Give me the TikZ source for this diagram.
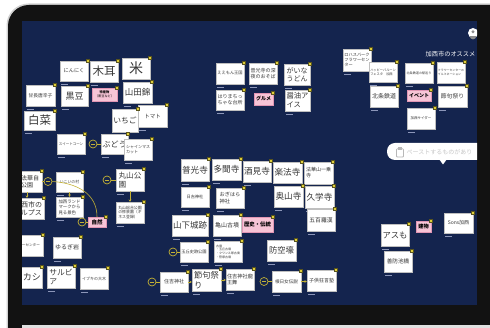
\documentclass[tikz,border=0pt]{standalone}
\usepackage{fontspec}
\newfontfamily\jp{Noto Sans CJK JP}
\usetikzlibrary{arrows.meta}
\definecolor{navy}{RGB}{20,36,78}
\definecolor{linky}{RGB}{196,178,52}
\definecolor{pinyel}{RGB}{222,206,58}
\definecolor{pindark}{RGB}{90,85,30}
\definecolor{pinkfill}{RGB}{247,196,214}
\definecolor{pinkdraw}{RGB}{225,150,180}
\definecolor{captc}{RGB}{140,150,185}
\definecolor{notetext}{RGB}{55,55,55}
\tikzset{
 fs/.style={font={\jp\pgfmathsetmacro\bsk{#1*1.22}\fontsize{#1}{\bsk}\selectfont}},
 note/.style={fill=white, draw=black!25, line width=0.3pt, inner sep=0.6pt, align=left, text=notetext},
 pnote/.style={fill=pinkfill, draw=pinkdraw, line width=0.4pt, inner sep=0.4pt, align=center, text=black},
 pinsq/.style={fill=pinyel, draw=pindark, line width=0.25pt},
 capt/.style={fill=captc},
 link/.style={draw=linky, line width=0.6pt},
 arr/.style={link, -{Stealth[length=2.4pt,width=2.6pt]}},
 coll/.style={circle, draw=linky, line width=0.7pt, minimum size=8pt, inner sep=0pt},
}
\newcommand\sticky[7]{%
 \node[note,fs=#6,minimum width={(#4)-(#2)},minimum height={(#5)-(#3)}] (#1) at ({((#2)+(#4))/2},{((#3)+(#5))/2}) {#7};
 \fill[capt] ({(#2)+1},{(#5)+2.6}) rectangle ({(#2)+8},{(#5)+3.5});
 \draw[pinsq] ({(#4)-1.5},{(#3)-1.5}) rectangle ({(#4)+1.5},{(#3)+1.5});
}
\newcommand\pinky[7]{%
 \node[pnote,fs=#6,minimum width={(#4)-(#2)},minimum height={(#5)-(#3)}] (#1) at ({((#2)+(#4))/2},{((#3)+(#5))/2}) {\bfseries #7};
 \draw[pinsq] ({(#4)-1.5},{(#3)-1.5}) rectangle ({(#4)+1.5},{(#3)+1.5});
}
\newcommand\collbtn[4]{%
 \node[coll] (#1) at (#2,#3) {};
 \draw[link] ([xshift=-2.2pt]#1.center) -- ([xshift=2.2pt]#1.center);
 \draw[link] (#1.east) -- (#1.east -| #4.west);
}
\begin{document}
\begin{tikzpicture}[x=1pt,y=-1pt]
\useasboundingbox (0,0) rectangle (490,328);
\begin{scope}
 \clip (0,0) rectangle (490,328);
 \fill[white] (0,0) rectangle (490,328);
 \fill[black!18, rounded corners=22] (6.5,3.5) rectangle (560,360);
 \fill[black!93, rounded corners=21] (8,5) rectangle (560,360);
 \fill[black!12] (22,325.5) rectangle (490,328);
\end{scope}
\fill[navy] (22,21) rectangle (477,305);
\begin{scope}
\clip (22,21) rectangle (477,305);
% top-right avatar
\fill[white] (473,33) circle (5);
\fill[black!45] (473,31.8) circle (1.6);
\fill[black!45] (469.8,36.2) arc (180:0:3.2) -- cycle;
% title
\node[fs=6.2, text=white, anchor=west, inner sep=0pt] (title) at (425.5,54) {加西市のオススメ};
% paste tooltip
\fill[white, rounded corners=8] (387,143) rectangle (520,160);
\fill[white] (439,159) -- (447,159) -- (443,164.5) -- cycle;
\draw[black!28, line width=0.8pt, rounded corners=0.8] (396.5,148.8) rectangle (403.5,157);
\fill[black!28] (398.4,147.4) rectangle (401.6,149.8);
\node[fs=6, text=black!22, anchor=west, inner sep=0pt] (paste) at (406.5,152) {ペーストするものがあり};

% left area
\sticky{ninniku}{60}{61}{88}{81}{5.2}{にんにく}
\sticky{kikurage}{90}{61}{118}{82}{11.5}{木耳}
\sticky{kome}{122}{58}{150}{79}{14}{米}
\sticky{amanaga}{26}{85}{55}{106}{4.8}{甘長唐辛子}
\sticky{kuromame}{61}{86}{88}{106}{9}{黒豆}
\pinky{tokusan}{92}{88}{117}{101}{3.2}{特産物\\（黒豆など）}
\sticky{yamada}{123}{82}{152}{103}{8.5}{山田錦}
\sticky{hakusai}{24}{111}{55}{130}{11.5}{白菜}
\sticky{tomato}{138}{105}{167}{127}{5.5}{トマト}
\sticky{ichigo}{112}{109}{138}{132}{7.8}{いちご}
\sticky{sweet}{57}{134}{85}{154}{3.5}{スイートコーン}
\sticky{budou}{101}{134}{128}{154}{8}{ぶどう}
\sticky{shine}{124}{139}{152}{160}{4}{シャインマス\\カット}
\sticky{kohokke}{12}{171}{42}{192}{6}{古法華自\\然公園}
\sticky{ikoi}{56}{172}{83}{192}{3.9}{いこいの村}
\sticky{alps}{12}{198}{44}{219}{7}{加西市の\\アルプス}
\sticky{kasailand}{56}{197}{83}{217}{4.4}{加西ランド\\マークから\\見る景色}
\sticky{maruyama}{116}{169}{144}{191}{7.6}{丸山公\\園}
\sticky{maruyama2}{116}{202}{144}{223}{3.9}{丸山総合公園\\の修景園（ギ\\ネス登録）}
\pinky{shizen}{88}{217}{106}{227}{5.5}{自然}
\sticky{flower}{8}{235}{43}{256}{3.6}{フラワーセンター}
\sticky{yurugi}{53}{237}{81}{258}{6}{ゆるぎ岩}
\sticky{kashi}{4}{267}{42}{288}{9}{アラカシ}
\sticky{salvia}{47}{266}{75}{288}{7.8}{サルビ\\ア}
\sticky{ibuki}{80}{268}{108}{289}{4}{イブキの大木}

% gourmet area
\sticky{eemon}{216}{63}{244}{84}{4.2}{ええもん王国}
\sticky{yasoba}{249}{63}{277}{84}{5}{普光寺の深\\夜のおそば}
\sticky{gaina}{284}{64}{310}{85}{7}{がいな\\うどん}
\sticky{harima}{216}{90}{244}{110}{5}{はりまちっ\\ちゃな台所}
\pinky{gourmet}{254}{93}{273}{105}{5}{グルメ}
\sticky{shoyu}{285}{90}{310}{111}{7.3}{醤油ア\\イス}

% history area
\sticky{fukou}{181}{159}{209}{181}{8.6}{普光寺}
\sticky{tamon}{212}{159}{241}{180}{8.6}{多聞寺}
\sticky{sakami}{243}{161}{271}{182}{8.6}{酒見寺}
\sticky{rakuhou}{273}{162}{302}{183}{8.6}{楽法寺}
\sticky{hokke}{304}{162}{333}{184}{5}{法華山一乗\\寺}
\sticky{hiyoshi}{181}{187}{209}{207}{4.2}{日吉神社}
\sticky{ogihara}{216}{188}{244}{208}{5.2}{おぎはら\\神社}
\sticky{okuyama}{274}{186}{303}{207}{8.6}{奥山寺}
\sticky{kugaku}{305}{186}{334}{208}{8.6}{久学寺}
\sticky{yamashita}{172}{215}{208}{236}{8.5}{山下城跡}
\sticky{kameyama}{213}{215}{241}{236}{6}{亀山古墳}
\pinky{rekishi}{242}{217}{273}{232}{5.4}{歴史・伝統}
\sticky{gohyaku}{307}{209}{335}{231}{5.8}{五百羅漢}
\sticky{tamaoka}{180}{242}{208}{262}{4.2}{玉丘史跡公園}
\sticky{kofun}{214}{241}{242}{262}{3}{古墳\\・玉丘古墳\\・クワンス塚古墳\\・笹塚古墳}
\sticky{bokugo}{267}{240}{296}{261}{8.3}{防空壕}
\sticky{sumiyoshi}{160}{272}{188}{292}{5}{住吉神社}
\sticky{sekku}{192}{269}{221}{291}{8.3}{節句祭\\り}
\sticky{ryuou}{226}{269}{254}{290}{5.2}{住吉神社龍\\王舞}
\sticky{nehime}{272}{271}{301}{292}{4.6}{根日女伝説}
\sticky{kodomo}{307}{270}{336}{291}{5}{子供狂言塾}

% event / building area
\sticky{lohas}{343}{49}{371}{71}{4.2}{ロハスパーク\\フラワーセン\\ター}
\sticky{balloon}{369}{62}{397}{82}{3.2}{ハッピーバルーン\\フェスタ　加西}
\sticky{ekimeguri}{405}{63}{433}{83}{3.1}{北条鉄道の駅巡り}
\sticky{illumi}{437}{62}{465}{83}{2.9}{フラワーセンターの\\イルミネーション}
\sticky{hojo}{370}{86}{398}{107}{6}{北条鉄道}
\pinky{event}{407}{90}{431}{101}{5}{イベント}
\sticky{sekku2}{438}{86}{467}{107}{5.8}{節句祭り}
\sticky{cider}{407}{108}{435}{129}{3.5}{加西サイダー}
\sticky{asumo}{381}{224}{409}{246}{8.3}{アスも}
\pinky{tatemono}{416}{221}{431}{232}{5.2}{建物}
\sticky{zenbou}{384}{251}{412}{272}{5.6}{善防池橋}
\sticky{sons}{444}{213}{473}{233}{5}{Sons加西}

% connectors
\draw[arr] (kohokke.south) -- (kohokke.south |- alps.north);
\draw[arr] (ikoi.south) -- (kasailand.north);
\draw[arr] (maruyama.south) -- (maruyama2.north);
\draw[arr] (sumiyoshi.east) -- (sumiyoshi.east -| sekku.west);
\draw[arr] (sekku.east) -- (sekku.east -| ryuou.west);
\draw[arr] (nehime.east) -- (nehime.east -| kodomo.west);

% collapse buttons
\collbtn{cbudou}{93}{144}{budou}
\collbtn{cmaru}{107}{180}{maruyama}
\collbtn{cshizen}{82}{222}{shizen}
\collbtn{ctama}{173}{252}{tamaoka}
\collbtn{csumi}{152}{282}{sumiyoshi}
\collbtn{cnehi}{264}{281.5}{nehime}
\node[coll] (ckoho) at (48,181.5) {};
\draw[link] ([xshift=-2.2pt]ckoho.center) -- ([xshift=2.2pt]ckoho.center);
\draw[link] (kohokke.east) -- (ckoho.west);
\draw[link] (ckoho.east) .. controls (76,183) and (97,193) .. (shizen.north);
\end{scope}
\end{tikzpicture}
\end{document}
